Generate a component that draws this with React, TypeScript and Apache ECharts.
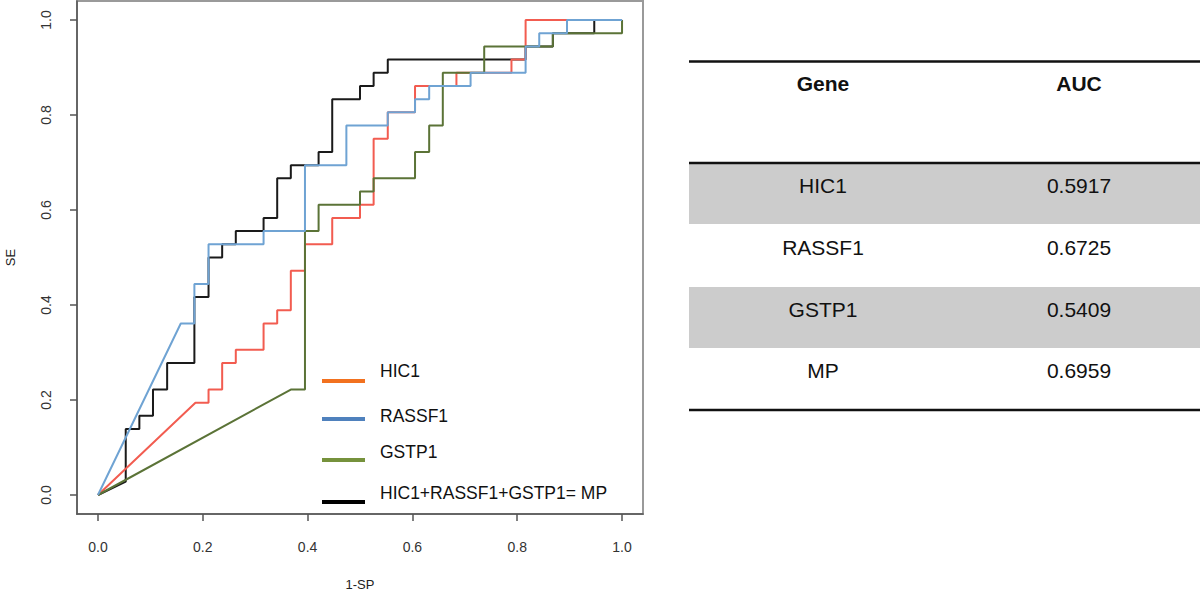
import React, { useEffect, useRef } from "react";
import * as echarts from "echarts";

// ROC curve vertices (1-SP, SE)
const hic1X = [0, 0.186, 0.211, 0.211, 0.237, 0.237, 0.263, 0.263, 0.316, 0.316, 0.342, 0.342, 0.368, 0.368, 0.395, 0.395, 0.447, 0.447, 0.5, 0.5, 0.526, 0.526, 0.553, 0.553, 0.605, 0.605, 0.684, 0.684, 0.789, 0.789, 0.816, 0.816, 1];
const hic1Y = [0, 0.194, 0.194, 0.222, 0.222, 0.278, 0.278, 0.306, 0.306, 0.361, 0.361, 0.389, 0.389, 0.472, 0.472, 0.528, 0.528, 0.583, 0.583, 0.611, 0.611, 0.75, 0.75, 0.806, 0.806, 0.861, 0.861, 0.889, 0.889, 0.917, 0.917, 1, 1];

const rassf1X = [0, 0.158, 0.184, 0.184, 0.211, 0.211, 0.316, 0.316, 0.395, 0.395, 0.474, 0.474, 0.553, 0.553, 0.605, 0.605, 0.632, 0.632, 0.711, 0.711, 0.816, 0.816, 0.842, 0.842, 0.895, 0.895, 1];
const rassf1Y = [0, 0.361, 0.361, 0.444, 0.444, 0.528, 0.528, 0.556, 0.556, 0.694, 0.694, 0.778, 0.778, 0.806, 0.806, 0.833, 0.833, 0.861, 0.861, 0.889, 0.889, 0.944, 0.944, 0.972, 0.972, 1, 1];

const gstp1X = [0, 0.368, 0.395, 0.395, 0.421, 0.421, 0.5, 0.5, 0.526, 0.526, 0.605, 0.605, 0.632, 0.632, 0.658, 0.658, 0.737, 0.737, 0.868, 0.868, 1, 1];
const gstp1Y = [0, 0.222, 0.222, 0.556, 0.556, 0.611, 0.611, 0.639, 0.639, 0.667, 0.667, 0.722, 0.722, 0.778, 0.778, 0.889, 0.889, 0.944, 0.944, 0.972, 0.972, 1];

const mpX = [0, 0.053, 0.053, 0.079, 0.079, 0.105, 0.105, 0.132, 0.132, 0.184, 0.184, 0.211, 0.211, 0.237, 0.237, 0.263, 0.263, 0.316, 0.316, 0.342, 0.342, 0.368, 0.368, 0.421, 0.421, 0.447, 0.447, 0.5, 0.5, 0.526, 0.526, 0.553, 0.553, 0.816, 0.816, 0.868, 0.868, 0.947, 0.947, 1];
const mpY = [0, 0.028, 0.139, 0.139, 0.167, 0.167, 0.222, 0.222, 0.278, 0.278, 0.417, 0.417, 0.5, 0.5, 0.528, 0.528, 0.556, 0.556, 0.583, 0.583, 0.667, 0.667, 0.694, 0.694, 0.722, 0.722, 0.833, 0.833, 0.861, 0.861, 0.889, 0.889, 0.917, 0.917, 0.944, 0.944, 0.972, 0.972, 1, 1];

const tickValues = [0, 0.2, 0.4, 0.6, 0.8, 1.0];
const tickLabels = ["0.0", "0.2", "0.4", "0.6", "0.8", "1.0"];

const legendNames = ["HIC1", "RASSF1", "GSTP1", "HIC1+RASSF1+GSTP1= MP"];
const legendColors = ["#f2711f", "#4f81bd", "#76923c", "#000000"];

const tableHeader = ["Gene", "AUC"];
const tableGenes = ["HIC1", "RASSF1", "GSTP1", "MP"];
const tableAUC = ["0.5917", "0.6725", "0.5409", "0.6959"];

const FONT = "'Liberation Sans', Arial, Helvetica, sans-serif";

function zip(xs: number[], ys: number[]) {
  return xs.map((x, i) => [x, ys[i]]);
}

export default function App() {
  const ref = useRef<HTMLDivElement>(null);
  useEffect(() => {
    if (!ref.current) return;
    const chart = echarts.init(ref.current, null, { renderer: "svg" });

    const mkSeries = (name: string, xs: number[], ys: number[], color: string) => ({
      name,
      type: "line",
      data: zip(xs, ys),
      showSymbol: false,
      symbol: "none",
      lineStyle: { color, width: 2 },
      silent: true,
    });

    const graphics: any[] = [];
    // legend
    const legY = [381, 419, 460, 502];
    const txtY = [371, 416, 452, 493];
    legendNames.forEach((n, i) => {
      graphics.push({
        type: "line",
        shape: { x1: 322, y1: legY[i], x2: 365, y2: legY[i] },
        style: { stroke: legendColors[i], lineWidth: 4 },
      });
      graphics.push({
        type: "text",
        x: 380,
        y: txtY[i],
        style: { text: n, font: `17.5px ${FONT}`, fill: "#111", textVerticalAlign: "middle" },
      });
    });

    // table
    const tLeft = 689;
    const tRight = 1200;
    const col1 = 823;
    const col2 = 1079;
    const rowTop = [163, 225, 287, 348];
    const rowH = 62;
    rowTop.forEach((t, i) => {
      if (i % 2 === 0) {
        graphics.push({
          type: "rect",
          shape: { x: tLeft, y: t, width: tRight - tLeft, height: rowH - 1 },
          style: { fill: "#cccccc" },
        });
      }
      graphics.push({
        type: "text",
        x: col1,
        y: t + 22,
        style: { text: tableGenes[i], font: `21px ${FONT}`, fill: "#111", textAlign: "center", textVerticalAlign: "middle" },
      });
      graphics.push({
        type: "text",
        x: col2,
        y: t + 22,
        style: { text: tableAUC[i], font: `21px ${FONT}`, fill: "#111", textAlign: "center", textVerticalAlign: "middle" },
      });
    });
    graphics.push({
      type: "text",
      x: col1,
      y: 83,
      style: { text: tableHeader[0], font: `bold 21px ${FONT}`, fill: "#111", textAlign: "center", textVerticalAlign: "middle" },
    });
    graphics.push({
      type: "text",
      x: col2,
      y: 83,
      style: { text: tableHeader[1], font: `bold 21px ${FONT}`, fill: "#111", textAlign: "center", textVerticalAlign: "middle" },
    });
    [61.5, 163, 410].forEach((y) => {
      graphics.push({
        type: "line",
        shape: { x1: tLeft, y1: y, x2: tRight, y2: y },
        style: { stroke: "#111", lineWidth: 2.5 },
      });
    });

    const axisCommon = {
      type: "value",
      min: -0.04,
      max: 1.04,
      splitLine: { show: false },
      axisLine: { show: true, onZero: false, lineStyle: { color: "#555", width: 1.5 } },
      axisTick: { show: true, inside: false, length: 7, customValues: tickValues, lineStyle: { color: "#555", width: 1.5 } },
      nameLocation: "middle",
      nameTextStyle: { fontFamily: FONT, fontSize: 13, color: "#222" },
    };

    chart.setOption({
      animation: false,
      grid: {
        left: 77,
        top: 1,
        width: 566,
        height: 513,
        show: true,
        borderColor: "#9a9a9a",
        borderWidth: 2,
        backgroundColor: "transparent",
        outerBoundsMode: "none",
        containLabel: false,
      },
      xAxis: {
        ...axisCommon,
        name: "1-SP",
        nameGap: 64,
        axisLabel: {
          customValues: tickValues,
          formatter: (v: number) => tickLabels[tickValues.findIndex((t) => Math.abs(t - v) < 1e-9)] ?? "",
          fontFamily: FONT,
          fontSize: 14,
          color: "#333",
          margin: 26,
        },
      },
      yAxis: {
        ...axisCommon,
        name: "SE",
        nameGap: 60,
        nameRotate: 90,
        axisLabel: {
          customValues: tickValues,
          formatter: (v: number) => tickLabels[tickValues.findIndex((t) => Math.abs(t - v) < 1e-9)] ?? "",
          fontFamily: FONT,
          fontSize: 14,
          color: "#333",
          rotate: 90,
          margin: 24,
        },
      },
      series: [
        mkSeries("HIC1+RASSF1+GSTP1= MP", mpX, mpY, "#1a1a1a"),
        mkSeries("HIC1", hic1X, hic1Y, "#f25c50"),
        mkSeries("GSTP1", gstp1X, gstp1Y, "#5b7337"),
        mkSeries("RASSF1", rassf1X, rassf1Y, "#6fa3d3"),
      ],
      graphic: graphics,
    });
    return () => chart.dispose();
  }, []);
  return <div ref={ref} style={{ position: "absolute", left: 0, top: 0, width: 1200, height: 593 }} />;
}
